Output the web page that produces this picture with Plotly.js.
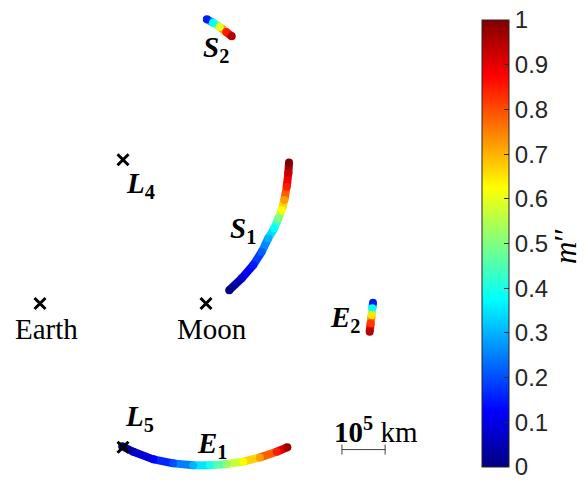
<!DOCTYPE html>
<html>
<head>
<meta charset="utf-8">
<script src="https://cdn.plot.ly/plotly-3.0.1.min.js"></script>
<style>html,body{margin:0;padding:0;background:#fff;}#plot{width:586px;height:481px;}</style>
</head>
<body>
<div id="plot"></div>
<script>
// Positions in Earth–Moon distance units (Earth at origin, Moon at x=1)
const bodyNames = ['Earth', 'Moon', 'L4', 'L5'];
const bodyX = [0, 1, 0.5, 0.5];
const bodyY = [0, 0, 0.866, -0.866];

// Trajectory arcs and their m'' values
const s1X = [1.140, 1.215, 1.285, 1.336, 1.375, 1.411, 1.436, 1.456, 1.472, 1.486, 1.496, 1.500];
const s1Y = [0.080, 0.152, 0.232, 0.312, 0.393, 0.453, 0.513, 0.563, 0.623, 0.704, 0.784, 0.850];
const s1M = [0.00, 0.08, 0.15, 0.22, 0.30, 0.38, 0.50, 0.62, 0.72, 0.85, 0.93, 1.00];

const e1X = [0.495, 0.562, 0.683, 0.803, 0.923, 1.024, 1.125, 1.225, 1.325, 1.426, 1.490];
const e1Y = [-0.860, -0.893, -0.939, -0.963, -0.975, -0.975, -0.967, -0.953, -0.927, -0.893, -0.866];
const e1M = [0.00, 0.05, 0.12, 0.20, 0.30, 0.40, 0.52, 0.62, 0.72, 0.85, 0.97];

const e2X = [2.006, 2.002, 1.998, 1.992, 1.986];
const e2Y = [0.005, -0.029, -0.069, -0.119, -0.170];
const e2M = [0.15, 0.38, 0.65, 0.82, 0.95];

const s2X = [1.005, 1.042, 1.083, 1.122, 1.155];
const s2Y = [1.712, 1.692, 1.666, 1.635, 1.610];
const s2M = [0.15, 0.38, 0.60, 0.85, 0.95];

const colorTicks = [0, 0.1, 0.2, 0.3, 0.4, 0.5, 0.6, 0.7, 0.8, 0.9, 1];
const colorTickText = ['0', '0.1', '0.2', '0.3', '0.4', '0.5', '0.6', '0.7', '0.8', '0.9', '1'];

const scaleKm = 1e5, earthMoonKm = 384400;

// MATLAB jet
const jetStops = [[0, [0, 0, 128]], [0.125, [0, 0, 255]], [0.375, [0, 255, 255]],
                  [0.625, [255, 255, 0]], [0.875, [255, 0, 0]], [1, [128, 0, 0]]];
const jetScale = jetStops.map(s => [s[0], 'rgb(' + s[1].join(',') + ')']);
function jet(v) {
  v = Math.max(0, Math.min(1, v));
  for (let i = 0; i < jetStops.length - 1; i++) {
    const a = jetStops[i], b = jetStops[i + 1];
    if (v <= b[0]) {
      const t = (v - a[0]) / (b[0] - a[0]);
      const c = a[1].map((ca, k) => Math.round(ca + t * (b[1][k] - ca)));
      return 'rgb(' + c.join(',') + ')';
    }
  }
  return 'rgb(128,0,0)';
}

const traces = [];
function addArc(xs, ys, ms, showScale) {
  for (let i = 0; i < xs.length - 1; i++) {
    traces.push({
      type: 'scatter', mode: 'lines', x: [xs[i], xs[i + 1]], y: [ys[i], ys[i + 1]],
      line: { color: jet((ms[i] + ms[i + 1]) / 2), width: 8 },
      hoverinfo: 'skip', showlegend: false
    });
  }
  const m = {
    type: 'scatter', mode: 'markers', x: xs, y: ys, showlegend: false, hoverinfo: 'skip',
    marker: { size: 8, color: ms, colorscale: jetScale, cmin: 0, cmax: 1, line: { width: 0 } }
  };
  if (showScale) {
    m.marker.showscale = true;
    m.marker.colorbar = {
      x: 482 / 440, xanchor: 'left', xpad: 0, ypad: 0,
      y: 1 - 243.5 / 481, yanchor: 'middle',
      lenmode: 'pixels', len: 447, thickness: 27,
      outlinecolor: '#262626', outlinewidth: 1,
      ticks: 'inside', ticklen: 5, tickwidth: 1, tickcolor: '#262626',
      ticklabeloverflow: 'allow',
      tickvals: colorTicks, ticktext: colorTickText,
      tickfont: { family: 'Liberation Sans, Arial, sans-serif', size: 24, color: '#262626' }
    };
  }
  traces.push(m);
}
addArc(s1X, s1Y, s1M, true);
addArc(e1X, e1Y, e1M, false);
addArc(e2X, e2Y, e2M, false);
addArc(s2X, s2Y, s2M, false);

// Body markers
traces.push({
  type: 'scatter', mode: 'markers', x: bodyX, y: bodyY, text: bodyNames,
  marker: { symbol: 'x-thin', size: 11, line: { width: 3, color: '#000' } },
  showlegend: false, hoverinfo: 'text'
});

// Scale bar (10^5 km)
const sbLen = scaleKm / earthMoonKm, sbX0 = 1.819, sbY = -0.880, tk = 0.03;
traces.push({
  type: 'scatter', mode: 'lines',
  x: [sbX0, sbX0, null, sbX0, sbX0 + sbLen, null, sbX0 + sbLen, sbX0 + sbLen],
  y: [sbY - tk, sbY + tk, null, sbY, sbY, null, sbY - tk, sbY + tk],
  line: { color: '#404040', width: 1 }, showlegend: false, hoverinfo: 'skip'
});

const serif = 'Liberation Serif, Times New Roman, serif';
function ann(x, y, text, size) {
  return { x: x, y: y, xref: 'x', yref: 'y', text: text, showarrow: false,
           xanchor: 'center', yanchor: 'middle',
           font: { family: serif, size: size || 29, color: '#000' } };
}
const annotations = [
  ann(0.042, -0.155, 'Earth'),
  ann(1.039, -0.155, 'Moon'),
  ann(0.608, 0.712, '<b><i>L</i></b><sub><b>4</b></sub>'),
  ann(1.220, 0.441, '<b><i>S</i></b><sub><b>1</b></sub>'),
  ann(1.060, 1.531, '<b><i>S</i></b><sub><b>2</b></sub>'),
  ann(1.837, -0.095, '<b><i>E</i></b><sub><b>2</b></sub>'),
  ann(0.602, -0.692, '<b><i>L</i></b><sub><b>5</b></sub>'),
  ann(1.036, -0.854, '<b><i>E</i></b><sub><b>1</b></sub>'),
  ann(2.022, -0.764, '<b>10<sup>5</sup></b>&nbsp;km'),
  { x: 565 / 440, y: 1 - 246 / 481, xref: 'paper', yref: 'paper', text: "<i>m</i>′′",
    showarrow: false, textangle: -90, xanchor: 'center', yanchor: 'middle',
    font: { family: serif, size: 31, color: '#000' } }
];

const layout = {
  width: 586, height: 481,
  margin: { l: 0, r: 146, t: 0, b: 0, pad: 0 },
  paper_bgcolor: '#fff', plot_bgcolor: '#fff',
  xaxis: { range: [-40 / 166, 400 / 166], visible: false, fixedrange: true },
  yaxis: { range: [(303.5 - 481) / 166, 303.5 / 166], visible: false, fixedrange: true },
  showlegend: false,
  annotations: annotations
};

Plotly.newPlot('plot', traces, layout, { displayModeBar: false, staticPlot: true });
</script>
</body>
</html>
